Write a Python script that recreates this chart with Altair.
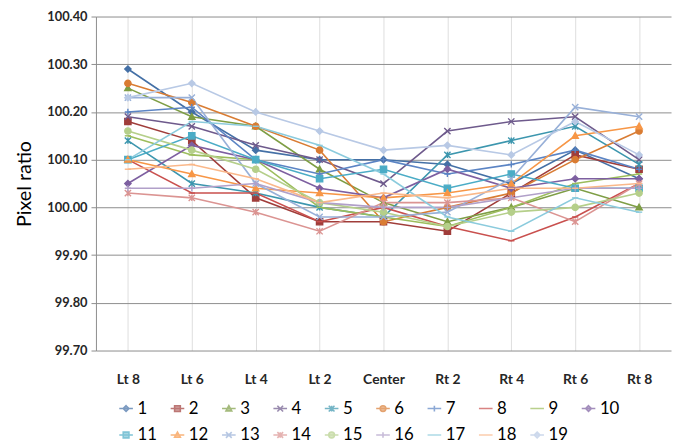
import altair as alt
import pandas as pd

positions = ["Lt 8", "Lt 6", "Lt 4", "Lt 2", "Center", "Rt 2", "Rt 4", "Rt 6", "Rt 8"]
y_ticks = [99.70, 99.80, 99.90, 100.00, 100.10, 100.20, 100.30, 100.40]

s01 = [100.29, 100.20, 100.12, 100.10, 100.10, 100.09, 100.05, 100.12, 100.06]
s02 = [100.18, 100.14, 100.02, 99.97, 99.97, 99.95, 100.03, 100.11, 100.08]
s03 = [100.25, 100.19, 100.17, 100.08, 100.01, 99.97, 100.00, 100.04, 100.00]
s04 = [100.19, 100.17, 100.13, 100.10, 100.05, 100.16, 100.18, 100.19, 100.10]
s05 = [100.14, 100.05, 100.03, 100.00, 99.98, 100.11, 100.14, 100.17, 100.09]
s06 = [100.26, 100.22, 100.17, 100.12, 99.97, 100.00, 100.03, 100.10, 100.16]
s07 = [100.20, 100.21, 100.10, 100.07, 100.10, 100.07, 100.09, 100.12, 100.08]
s08 = [100.10, 100.03, 100.03, 99.97, 100.00, 99.96, 99.93, 99.98, 100.05]
s09 = [100.15, 100.11, 100.10, 100.00, 99.98, 99.96, 100.00, 100.05, 100.07]
s10 = [100.05, 100.13, 100.10, 100.04, 100.02, 100.08, 100.04, 100.06, 100.06]
s11 = [100.10, 100.15, 100.10, 100.06, 100.08, 100.04, 100.07, 100.04, 100.04]
s12 = [100.10, 100.07, 100.04, 100.03, 100.02, 100.03, 100.05, 100.15, 100.17]
s13 = [100.23, 100.23, 100.05, 99.98, 99.98, 99.99, 100.06, 100.21, 100.19]
s14 = [100.03, 100.02, 99.99, 99.95, 100.01, 100.01, 100.02, 99.97, 100.05]
s15 = [100.16, 100.12, 100.08, 100.01, 99.99, 99.96, 99.99, 100.00, 100.03]
s16 = [100.04, 100.04, 100.05, 100.01, 100.00, 100.00, 100.02, 100.04, 100.04]
s17 = [100.10, 100.18, 100.17, 100.13, 100.07, 99.98, 99.95, 100.02, 99.99]
s18 = [100.08, 100.09, 100.06, 100.01, 100.03, 100.02, 100.04, 100.04, 100.05]
s19 = [100.23, 100.26, 100.20, 100.16, 100.12, 100.13, 100.11, 100.18, 100.11]

series_names = [str(i) for i in range(1, 20)]
series_values = [s01, s02, s03, s04, s05, s06, s07, s08, s09, s10,
                 s11, s12, s13, s14, s15, s16, s17, s18, s19]
colors = ["#4470A6", "#A03D3A", "#7E9E45", "#6E5A8C", "#3C96AE", "#D97C33",
          "#5B84C4", "#C9504E", "#9CBD5C", "#7D5FA0", "#4BACC6", "#F79646",
          "#98B0D8", "#DB9492", "#B5CF8A", "#B1A0C9", "#8BCBDD", "#FAB88A",
          "#B8C9E5"]
marker_kinds = ["diamond", "square", "triangle", "x", "star", "circle", "plus",
                "dash", "dash", "diamond", "square", "triangle", "x", "star",
                "circle", "plus", "dash", "dash", "diamond"]


def marker_path(kind, s):
    if kind == "diamond":
        return f"M0,{-s}L{s},0L0,{s}L{-s},0Z"
    if kind == "square":
        return f"M{-s},{-s}L{s},{-s}L{s},{s}L{-s},{s}Z"
    if kind == "triangle":
        return f"M0,{-s}L{s},{0.8*s}L{-s},{0.8*s}Z"
    if kind == "x":
        return f"M{-s},{-s}L{s},{s}M{-s},{s}L{s},{-s}"
    if kind == "star":
        return f"M{-s},{-s}L{s},{s}M{-s},{s}L{s},{-s}M0,{-s}L0,{s}"
    if kind == "circle":
        return f"M{s},0A{s},{s},0,1,1,{-s},0A{s},{s},0,1,1,{s},0Z"
    if kind == "plus":
        return f"M{-s},0L{s},0M0,{-s}L0,{s}"
    return f"M{-s},0L{s},0"


point_shapes = [marker_path(k, 1) for k in marker_kinds]
legend_shapes = ["M-1,0L1,0" + marker_path(k, 0.42) for k in marker_kinds]

rows = []
for name, vals in zip(series_names, series_values):
    for pos, v in zip(positions, vals):
        rows.append({"series": name, "leg": name, "pos": pos, "val": v})
df = pd.DataFrame(rows)

FONT = "Lato"

x_enc = alt.X("pos:N", sort=positions,
              scale=alt.Scale(type="point", domain=positions, padding=0.5),
              axis=alt.Axis(title=None, labelAngle=0, labelFontSize=14,
                            labelFontWeight="bold", labelColor="#262626",
                            labelPadding=22, ticks=False, domain=False,
                            labelFont=FONT))
y_enc = alt.Y("val:Q", scale=alt.Scale(domain=[99.70, 100.40], nice=False, zero=False),
              axis=alt.Axis(title="Pixel ratio", values=y_ticks, format=".2f",
                            labelFontSize=13, labelFontWeight="bold",
                            labelColor="#262626", titleFontSize=20,
                            titleFontWeight="normal", titleColor="#000000",
                            titlePadding=12, tickSize=5, tickColor="#8C8C8C",
                            domainColor="#8C8C8C", gridColor="#8C8C8C",
                            labelFont=FONT, titleFont=FONT, labelPadding=4))

color_scale = alt.Scale(domain=series_names, range=colors)

lines = alt.Chart(df).mark_line(strokeWidth=1.6).encode(
    x=x_enc, y=y_enc,
    color=alt.Color("series:N", scale=color_scale, legend=None),
    detail="series:N",
)

points = alt.Chart(df).mark_point(size=40, strokeWidth=1.4, opacity=1).encode(
    x=x_enc, y=y_enc,
    fill=alt.Fill("series:N", scale=color_scale, legend=None),
    stroke=alt.Stroke("series:N", scale=color_scale, legend=None),
    shape=alt.Shape("series:N", scale=alt.Scale(domain=series_names, range=point_shapes),
                    legend=None),
)

leg_props = dict(orient="none", legendX=22, legendY=388, columns=10,
                 direction="horizontal", title=None, symbolSize=190,
                 symbolStrokeWidth=1.6, labelFontSize=17, labelFont=FONT,
                 labelColor="#000000", columnPadding=10, rowPadding=9,
                 labelOffset=3, symbolType="stroke")

legend_layer = alt.Chart(df).transform_filter("datum.val < 0").mark_point(
    size=40, strokeWidth=1.6, filled=False).encode(
    x=x_enc, y=y_enc,
    stroke=alt.Stroke("leg:N", scale=alt.Scale(domain=series_names, range=colors),
                      legend=alt.Legend(**leg_props)),
    fill=alt.Fill("leg:N", scale=alt.Scale(domain=series_names, range=colors),
                  legend=alt.Legend(**leg_props)),
    shape=alt.Shape("leg:N", scale=alt.Scale(domain=series_names, range=legend_shapes),
                    legend=alt.Legend(**leg_props)),
)

chart = alt.layer(lines, points, legend_layer).resolve_scale(
    shape="independent", stroke="independent", fill="independent"
).properties(
    width=582, height=338, autosize="none",
    padding={"left": 89, "top": 6, "right": 3, "bottom": 95},
).configure_view(stroke=None).configure_axis(grid=True)

chart.save("out.html", embed_options={"renderer": "svg", "actions": False})
